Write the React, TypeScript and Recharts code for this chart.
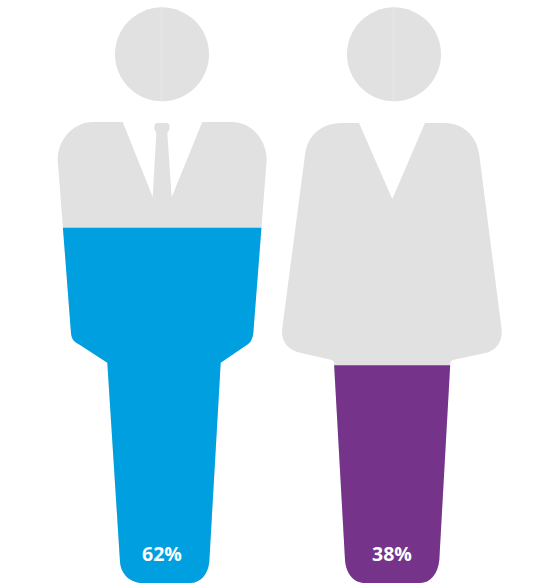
import { BarChart, Bar, XAxis, YAxis, LabelList } from "recharts"

const categories = ["Men", "Women"]
const shares = [62, 38]
const fillColors = ["#009fdf", "#753389"]

const SILHOUETTE_GREY = "#e1e1e1"

// Body outlines, x relative to the centre of each band, y in chart pixels
const bodyPaths = [
  "M -69 122 L -39.3 122 L -9.3 197 L -5.7 133 Q -7.7 130 -7.7 127 Q -7.7 123 -4 123 L 4 123 Q 7.7 123 7.7 127 Q 7.7 130 5.3 133 L 9.7 197 L 40.3 122 L 69.7 122 C 90 122 104.7 140 104.7 160 L 91.3 333 C 90.5 340 88 343 84.7 345 L 58.7 362.7 L 47.3 561.7 C 46 575 38 583 28 583 L -19 583 C -31 583 -41 575 -42 561.7 L -54.7 362.7 L -82 345 C -88 342 -90.5 339 -91 333 L -104.3 160 C -104.3 140 -89 122 -69 122 Z",
  "M -50.3 123 L -33 123 L 0.3 199 L 33 123 L 53 123 C 72 123 85 137 87.3 155 L 109.7 330 C 110.5 342 104 350 94.7 352.7 L 60.7 360 Q 58.3 361 58.3 363 L 47.3 560 C 46 574 38 583 28 583 L -27 583 C -38 583 -46 574 -47 560 L -58 363 Q -58 361 -60 360 L -92 352.7 C -104 350 -110.5 342 -110 330 L -87 155 C -85 137 -72 123 -50.3 123 Z",
]
const headOffsets = [0, 2]
const HEAD_CY = 54.3
const HEAD_R = 47

function PersonBar(props: any) {
  const { x, y, width, height, index } = props
  const cx = x + width / 2
  const clipId = `person-${index}`
  const headX = headOffsets[index]
  return (
    <g>
      <defs>
        <clipPath id={clipId}>
          <path d={bodyPaths[index]} transform={`translate(${cx} 0)`} />
        </clipPath>
      </defs>
      <circle cx={cx + headX} cy={HEAD_CY} r={HEAD_R} fill={SILHOUETTE_GREY} />
      {/* faint seam down the middle of the head */}
      <rect x={cx - 1.2 + headX} y={HEAD_CY - HEAD_R} width={0.8} height={HEAD_R * 2} fill="#ebebeb" />
      <path d={bodyPaths[index]} transform={`translate(${cx} 0)`} fill={SILHOUETTE_GREY} />
      <rect x={x} y={y} width={width} height={height} fill={fillColors[index]} clipPath={`url(#${clipId})`} />
    </g>
  )
}

const data = categories.map((name, i) => ({ name, share: shares[i] }))

export default function App() {
  return (
    <div style={{ position: "absolute", left: 0, top: 0 }}>
      <BarChart
        width={538}
        height={585}
        data={data}
        margin={{ top: 10, right: 0, bottom: 2, left: 0 }}
        barCategoryGap={0}
      >
        <XAxis
          dataKey="name"
          height={0}
          tick={false}
          tickLine={false}
          padding={{ left: 47, right: 31 }}
          axisLine={{ stroke: "#c4c4c4", strokeWidth: 1 }}
        />
        <YAxis type="number" domain={[0, 100]} hide />
        <Bar dataKey="share" shape={PersonBar} isAnimationActive={false}>
          <LabelList
            dataKey="share"
            position="insideBottom"
            offset={22}
            formatter={(v: number) => `${v}%`}
            fill="#ffffff"
            style={{ fontFamily: "'Open Sans', sans-serif", fontSize: 19.5, fontWeight: 700 }}
          />
        </Bar>
      </BarChart>
    </div>
  )
}
